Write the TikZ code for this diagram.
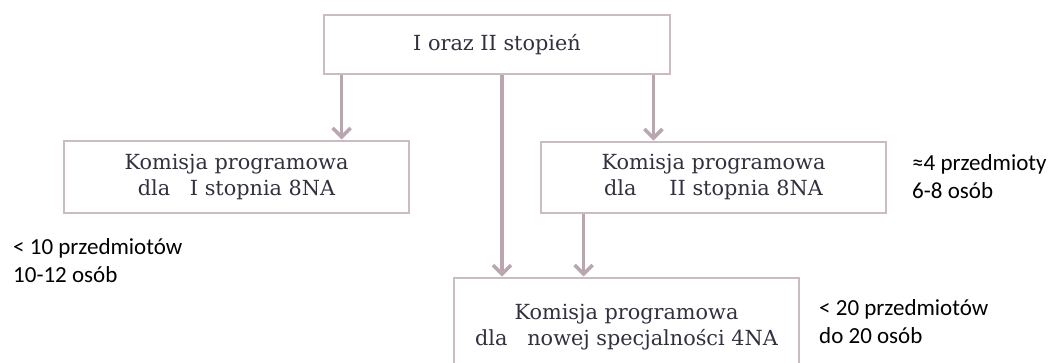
\documentclass[tikz,border=0pt]{standalone}
\usepackage{fontspec}
\setmainfont{DejaVu Serif}
\newfontfamily\sidefont{Carlito}
\usetikzlibrary{arrows.meta}
\definecolor{boxc}{RGB}{203,188,195}
\definecolor{arrc}{RGB}{186,166,176}
\definecolor{txtc}{RGB}{50,48,62}
\begin{document}
\begin{tikzpicture}[x=1pt,y=-1pt,
  box/.style={draw=boxc, line width=2.8pt, rectangle, inner sep=0pt, align=center,
    text=txtc, font=\fontsize{20.8}{26}\selectfont},
  arr/.style={draw=arrc, line width=3.6pt,
    -{Straight Barb[length=9pt,width=18pt,line width=3.6pt]}},
  side/.style={anchor=base west, align=left, inner sep=0pt, text=black,
    font=\sidefont\fontsize{23}{28}\selectfont}]
\useasboundingbox (0,0) rectangle (1055,362);
\clip (0,0) rectangle (1055,362);

\node[box, minimum width=346pt, minimum height=59pt] (top) at (497,44.5) {I oraz II stopień};
\node[box, minimum width=345pt, minimum height=72pt] (left) at (236.5,177) {Komisja programowa\\dla\ \ \ I stopnia 8NA};
\node[box, minimum width=345pt, minimum height=71pt] (right) at (713.5,177.5) {Komisja programowa\\dla\ \ \ \ \ II stopnia 8NA};
\node[box, minimum width=345pt, minimum height=98pt] (bot) at (626.5,327) {Komisja programowa\\dla\ \ \ nowej specjalności 4NA};

\coordinate (a1) at ([xshift=19pt]top.south west);
\coordinate (a2) at ([xshift=-18pt]top.south east);
\coordinate (a3) at ([xshift=5pt]top.south);
\coordinate (a4) at ([xshift=44pt]right.south west);
\draw[arr] (a1) -- (a1 |- left.north);
\draw[arr] (a2) -- (a2 |- right.north);
\draw[arr] (a3) -- (a3 |- bot.north);
\draw[arr] (a4) -- (a4 |- bot.north);

\node[side] (s1) at (13,282) {< 10 przedmiotów\\10-12 osób};
\node[side] (s2) at (912,198) {≈4 przedmioty\\6-8 osób};
\node[side] (s3) at (819,343) {< 20 przedmiotów\\do 20 osób};
\end{tikzpicture}
\end{document}
